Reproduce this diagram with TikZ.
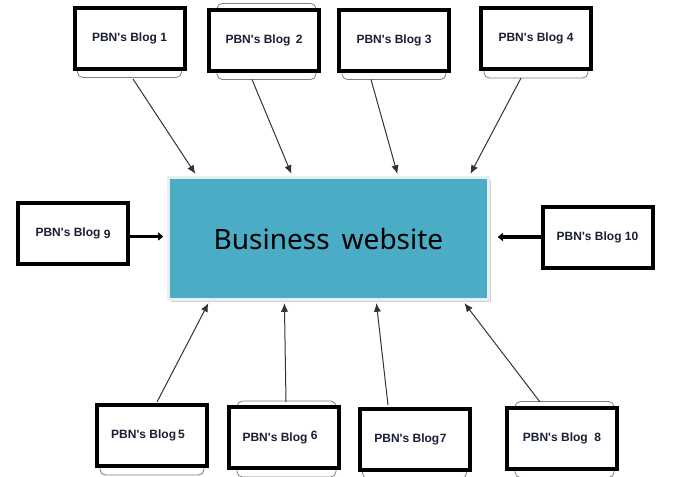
\documentclass[tikz,border=0pt]{standalone}
\usepackage{fontspec}
\newfontfamily\blogfont{Liberation Sans}
\newfontfamily\bigfont{Noto Sans}
\usetikzlibrary{calc,arrows.meta,backgrounds}
\definecolor{txtc}{HTML}{1A1F36}
\definecolor{bizblue}{HTML}{4BACC6}
\definecolor{bizedge}{HTML}{E9EEF0}
\definecolor{shadowc}{HTML}{7F7F7F}
\definecolor{linec}{HTML}{333333}
\tikzset{
  blogbox/.style={draw=black, line width=3pt, fill=white, minimum width=110*0.75pt,
    minimum height=61*0.75pt, inner sep=0pt, font=\blogfont\bfseries\fontsize{9}{10}\selectfont, text=txtc},
  tabshadow/.style={draw=shadowc, line width=0.6pt, fill=white, rounded corners=4pt},
  thinarrow/.style={draw=linec, line width=0.75pt, -{Latex[length=6.5pt,width=5.5pt]}},
  thickarrow/.style={draw=black, line width=2.4pt, -{Stealth[length=4.5pt,width=7.5pt,inset=1.5pt,round]}},
}
\begin{document}
\begin{tikzpicture}[x=0.75pt,y=-0.75pt]
\useasboundingbox (0,0) rectangle (680,476);
% central box
\fill[gray!35] (171,180) rectangle (491,302);
\node[fill=bizblue, draw=bizedge, line width=2.4pt, minimum width=320*0.75pt,
  minimum height=122*0.75pt, inner sep=0pt, font=\bigfont\fontsize{21}{24}\selectfont,
  text=black] (bw) at (328.5,238.5) {Business\, website};
% blog boxes
\node[blogbox] (b1) at (129.5,38) {PBN's Blog 1};
\node[blogbox] (b2) at (264,40) {PBN's Blog\, 2};
\node[blogbox] (b3) at (394,40) {PBN's Blog 3};
\node[blogbox] (b4) at (536,38.5) {PBN's Blog 4};
\node[blogbox] (b9) at (73,233.5) {PBN's Blog \raisebox{-1.5pt}{9}};
\node[blogbox] (b10) at (597.5,237) {PBN's Blog 10};
\node[blogbox] (b5) at (152,435.5) {\hspace*{-6pt}PBN's Blog\,5};
\node[blogbox] (b6) at (284,437.5) {\hspace*{-6pt}PBN's Blog \raisebox{2pt}{6}};
\node[blogbox] (b7) at (414.5,439) {\hspace*{-6pt}PBN's Blog\kern0.5pt7};
\node[blogbox] (b8) at (562,438) {PBN's Blog\ \ 8};
% tab shadows behind the boxes
\begin{scope}[on background layer]
\foreach \b in {b1,b3,b4,b5,b7}{
  \path[tabshadow] ($(\b.north west)+(5,4)$) rectangle ($(\b.south east)+(-5,7)$);
}
\foreach \b in {b2,b6,b8}{
  \path[tabshadow] ($(\b.north west)+(10,-4)$) rectangle ($(\b.south east)+(-5,7)$);
}
\end{scope}
% top arrows
\draw[thinarrow] ($(b1.south)+(3.5,8.5)$) -- ($(bw.north west)+(28.5,-2)$);
\draw[thinarrow] ($(b2.south)+(-12,7)$) -- ($(bw.north west)+(124.5,-2)$);
\draw[thinarrow] ($(b3.south)+(-23,7)$) -- ($(bw.north west)+(230.5,-2)$);
\draw[thinarrow] ($(b4.south)+(-15,7)$) -- ($(bw.north west)+(303.5,-2)$);
% bottom arrows
\draw[thinarrow] ($(b5.north)+(5,-1)$) -- ($(bw.south west)+(41.5,2)$);
\draw[thinarrow] ($(b6.north)+(2,-3)$) -- ($(bw.south west)+(117.5,2)$);
\draw[thinarrow] ($(b7.north)+(-26.5,-1.5)$) -- ($(bw.south west)+(209.5,2)$);
\draw[thinarrow] ($(b8.north)+(-22,-3.5)$) -- ($(bw.south west)+(297.5,2)$);
% side arrows
\draw[thickarrow] ($(b9.east)+(0,3)$) -- ($(bw.west)+(-4,-2)$);
\draw[thickarrow] (b10.west) -- ($(bw.east)+(8,-1.5)$);
\end{tikzpicture}
\end{document}
